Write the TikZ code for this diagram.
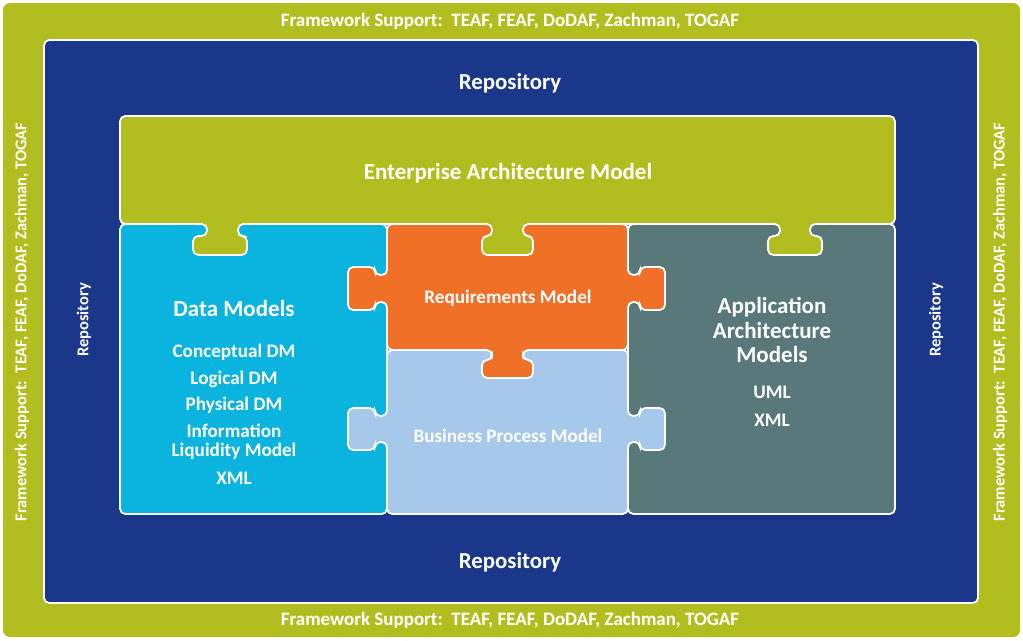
\documentclass[tikz,border=0pt]{standalone}
\usepackage{fontspec}
\setmainfont{Carlito}
\usepackage{tikz}
\usetikzlibrary{positioning}
\definecolor{c_frame}{RGB}{178,190,32}
\definecolor{c_repo}{RGB}{27,55,138}
\definecolor{c_data}{RGB}{10,180,222}
\definecolor{c_req}{RGB}{240,112,40}
\definecolor{c_bpm}{RGB}{166,200,234}
\definecolor{c_app}{RGB}{88,120,122}
\tikzset{piece/.style={draw=white, line width=1pt, rounded corners=3pt},
frame-text/.style={text=white, font=\fontsize{10.8}{12}\selectfont\bfseries, inner sep=0pt},
side-text/.style={text=white, font=\fontsize{9.4}{11}\selectfont\bfseries, inner sep=0pt, rotate=90},
repo-text/.style={text=white, font=\fontsize{13}{15}\selectfont\bfseries, inner sep=0pt},
title-text/.style={text=white, font=\fontsize{13.1}{14}\selectfont\bfseries, align=center, inner sep=0pt},
item-text/.style={text=white, font=\fontsize{10.9}{11}\selectfont\bfseries, align=center, inner sep=0pt}}

\begin{document}
\begin{tikzpicture}[x=0.02cm, y=-0.02cm]
\useasboundingbox (0,0) rectangle (1023,640);
% frame and repository
\fill[c_frame, rounded corners=4pt] (3,3) rectangle (1020,637);
\draw[piece, fill=c_repo] (44,40) rectangle (978,603);
% base pieces
\draw[piece, fill=c_data] (120,224) rectangle (387,514);
\draw[piece, fill=c_app] (628,224) rectangle (895,514);
\draw[piece, fill=c_bpm] (387,350) -- (628,350) -- (628,416) -- (640,416) -- (640,408) -- (665,408) -- (665,450) -- (640,450) -- (640,442) -- (628,442) -- (628,514) -- (387,514) -- (387,442) -- (375,442) -- (375,450) -- (348,450) -- (348,408) -- (375,408) -- (375,416) -- (387,416) -- cycle;
\draw[piece, fill=c_req] (387,224) -- (628,224) -- (628,275) -- (640,275) -- (640,267) -- (665,267) -- (665,310) -- (640,310) -- (640,302) -- (628,302) -- (628,350) -- (523,350) -- (523,360) -- (533,360) -- (533,378) -- (482,378) -- (482,360) -- (492,360) -- (492,350) -- (387,350) -- (387,302) -- (375,302) -- (375,310) -- (348,310) -- (348,267) -- (375,267) -- (375,275) -- (387,275) -- cycle;
\draw[piece, fill=c_frame] (120,116) -- (895,116) -- (895,224) -- (810,224) -- (810,236) -- (822,236) -- (822,255) -- (768,255) -- (768,236) -- (780,236) -- (780,224) -- (523,224) -- (523,236) -- (533,236) -- (533,255) -- (482,255) -- (482,236) -- (492,236) -- (492,224) -- (238,224) -- (238,236) -- (247,236) -- (247,255) -- (193,255) -- (193,236) -- (207,236) -- (207,224) -- (120,224) -- cycle;

% frame labels
\node (fs-top) [frame-text] at (510,21) {Framework Support:\ \ TEAF, FEAF, DoDAF, Zachman, TOGAF};
\node (fs-bot) [frame-text] at (510,620) {Framework Support:\ \ TEAF, FEAF, DoDAF, Zachman, TOGAF};
\node (fs-left) [side-text] at (22,322) {Framework Support:\ \ TEAF, FEAF, DoDAF, Zachman, TOGAF};
\node (fs-right) [side-text] at (1000,322) {Framework Support:\ \ TEAF, FEAF, DoDAF, Zachman, TOGAF};
% repository labels
\node (repo-top) [repo-text] at (510,83) {Repository};
\node (repo-bot) [repo-text] at (510,562) {Repository};
\node (repo-left) [side-text] at (84,320) {Repository};
\node (repo-right) [side-text] at (936,320) {Repository};

% piece labels
\node (eam) [title-text] at (508,173) {Enterprise Architecture Model};
\node (dm) [title-text] at (234,308) {Data Models};
\node (dm1) [item-text, below of=dm, node distance=0.88cm] {Conceptual DM};
\node (dm2) [item-text, below of=dm1, node distance=0.54cm] {Logical DM};
\node (dm3) [item-text, below of=dm2, node distance=0.53cm] {Physical DM};
\node (dm4) [item-text, below of=dm3, node distance=0.73cm] {Information\\Liquidity Model};
\node (dm5) [item-text, below of=dm4, node distance=0.73cm] {XML};
\node (req) [item-text] at (508,298) {Requirements Model};
\node (bpm) [item-text] at (508,436) {Business Process Model};
\node (aam) [title-text] at (772,330) {Application\\Architecture\\Models};
\node (aam1) [item-text, below of=aam, node distance=1.24cm] {UML};
\node (aam2) [item-text, below of=aam1, node distance=0.56cm] {XML};
\end{tikzpicture}
\end{document}
